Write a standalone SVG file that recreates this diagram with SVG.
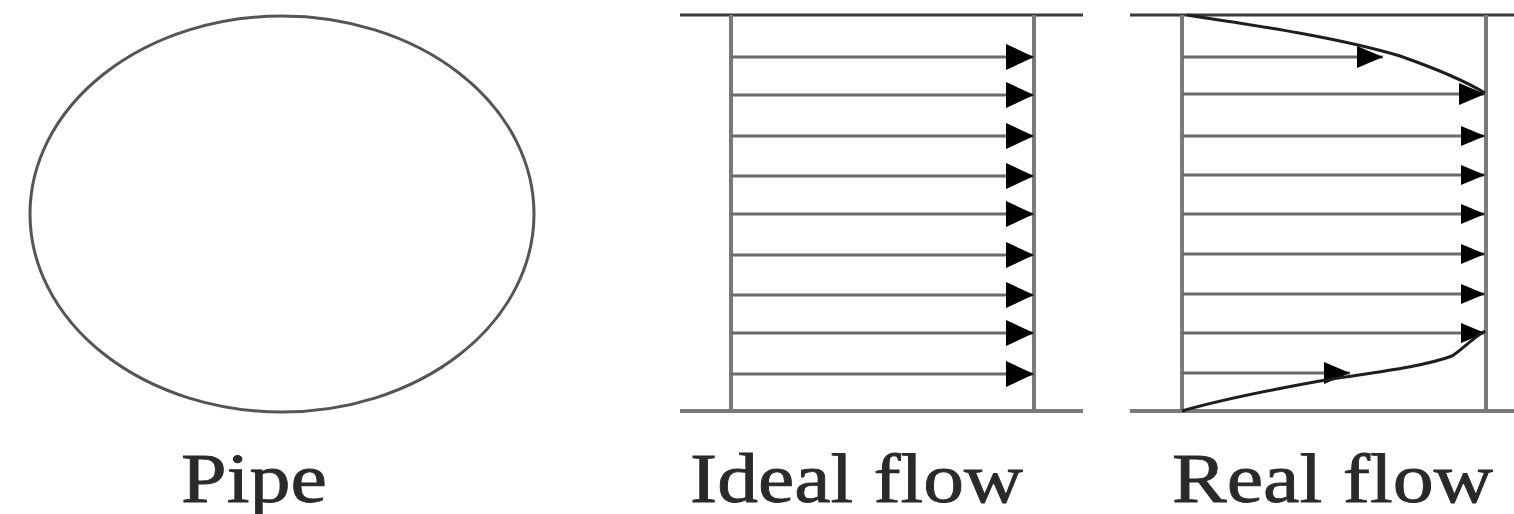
<svg xmlns="http://www.w3.org/2000/svg" width="1514" height="514" viewBox="0 0 1514 514">
  <style>
    .wall { stroke: #7a7a7a; stroke-width: 4; fill: none; }
    .wallTop { stroke: #3a3a3a; stroke-width: 3; fill: none; }
    .flow { stroke: #6a6a6a; stroke-width: 3; fill: none; }
    .profile { stroke: #1e1e1e; stroke-width: 3; fill: none; }
    .label { font-family: "Liberation Serif", "Times New Roman", serif; font-size: 70px; fill: #2a2a2a; stroke: #2a2a2a; stroke-width: 0.8; }
  </style>
  <defs>
    <marker id="headBig" markerUnits="userSpaceOnUse" markerWidth="30" markerHeight="28" refX="28" refY="13" orient="auto">
      <path d="M0,0 L28,13 L0,26 Z" fill="#000"/>
    </marker>
    <marker id="headMid" markerUnits="userSpaceOnUse" markerWidth="28" markerHeight="24" refX="26" refY="11" orient="auto">
      <path d="M0,0 L26,11 L0,22 Z" fill="#000"/>
    </marker>
    <marker id="headSmall" markerUnits="userSpaceOnUse" markerWidth="26" markerHeight="22" refX="24" refY="10" orient="auto">
      <path d="M0,0 L24,10 L0,20 Z" fill="#000"/>
    </marker>
  </defs>

  <g id="pipe">
    <ellipse cx="282" cy="214" rx="252" ry="198" fill="none" stroke="#555" stroke-width="3"/>
    <text class="label" x="181" y="502" textLength="146" lengthAdjust="spacingAndGlyphs">Pipe</text>
  </g>

  <g id="ideal-flow">
    <line class="wallTop" x1="680" y1="15" x2="1083" y2="15"/>
    <line class="wall" x1="680" y1="411" x2="1083" y2="411"/>
    <line class="wall" x1="731" y1="15" x2="731" y2="411"/>
    <line class="wall" x1="1034" y1="15" x2="1034" y2="411"/>
    <text class="label" x="690" y="502" textLength="333" lengthAdjust="spacingAndGlyphs">Ideal flow</text>
  </g>

  <g id="real-flow">
    <line class="wallTop" x1="1130" y1="15" x2="1514" y2="15"/>
    <line class="wall" x1="1130" y1="411" x2="1514" y2="411"/>
    <line class="wall" x1="1182" y1="15" x2="1182" y2="411"/>
    <line class="wall" x1="1486" y1="15" x2="1486" y2="411"/>
    <text class="label" x="1172" y="502" textLength="321" lengthAdjust="spacingAndGlyphs">Real flow</text>
  </g>

  <g id="connectors">
    <line class="flow" x1="731" y1="57" x2="1034" y2="57" marker-end="url(#headBig)"/>
    <line class="flow" x1="731" y1="95" x2="1034" y2="95" marker-end="url(#headBig)"/>
    <line class="flow" x1="731" y1="136" x2="1034" y2="136" marker-end="url(#headBig)"/>
    <line class="flow" x1="731" y1="176" x2="1034" y2="176" marker-end="url(#headBig)"/>
    <line class="flow" x1="731" y1="214" x2="1034" y2="214" marker-end="url(#headBig)"/>
    <line class="flow" x1="731" y1="255" x2="1034" y2="255" marker-end="url(#headBig)"/>
    <line class="flow" x1="731" y1="295" x2="1034" y2="295" marker-end="url(#headBig)"/>
    <line class="flow" x1="731" y1="333" x2="1034" y2="333" marker-end="url(#headBig)"/>
    <line class="flow" x1="731" y1="374" x2="1034" y2="374" marker-end="url(#headBig)"/>

    <line class="flow" x1="1182" y1="57" x2="1383" y2="57" marker-end="url(#headMid)"/>
    <line class="flow" x1="1182" y1="94" x2="1485" y2="94" marker-end="url(#headMid)"/>
    <line class="flow" x1="1182" y1="136" x2="1485" y2="136" marker-end="url(#headSmall)"/>
    <line class="flow" x1="1182" y1="175" x2="1485" y2="175" marker-end="url(#headSmall)"/>
    <line class="flow" x1="1182" y1="214" x2="1485" y2="214" marker-end="url(#headSmall)"/>
    <line class="flow" x1="1182" y1="254" x2="1485" y2="254" marker-end="url(#headSmall)"/>
    <line class="flow" x1="1182" y1="294" x2="1485" y2="294" marker-end="url(#headSmall)"/>
    <line class="flow" x1="1182" y1="333" x2="1485" y2="333" marker-end="url(#headSmall)"/>
    <line class="flow" x1="1182" y1="373" x2="1350" y2="373" marker-end="url(#headMid)"/>

    <path class="profile" d="M1187,15 C1260,26 1340,38 1400,56 C1440,70 1470,84 1485,93"/>
    <path class="profile" d="M1485,331 C1470,340 1462,350 1452,356 C1420,368 1360,374 1320,381 C1270,390 1220,400 1182,411"/>
  </g>
</svg>
